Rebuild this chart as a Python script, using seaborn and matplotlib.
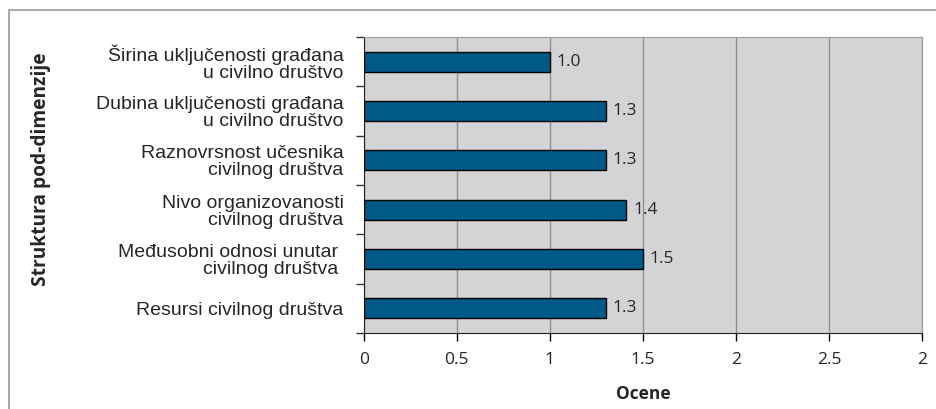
import pandas as pd
import seaborn as sns
import matplotlib.pyplot as plt
from matplotlib.patches import Rectangle

categories = [
    'Širina uključenosti građana\nu civilno društvo',
    'Dubina uključenosti građana\nu civilno društvo',
    'Raznovrsnost učesnika\ncivilnog društva',
    'Nivo organizovanosti\ncivilnog društva',
    'Međusobni odnosi unutar \ncivilnog društva ',
    'Resursi civilnog društva',
]
scores = [1.0, 1.3, 1.3, 1.41, 1.5, 1.3]
x_ticks = [0, 0.5, 1, 1.5, 2, 2.5, 3]
x_tick_labels = ['0', '0.5', '1', '1.5', '2', '2.5', '2']


def plot(output: str):
	sns.set_style('white')
	plt.rcParams['font.family'] = ['Open Sans', 'DejaVu Sans']
	data = pd.DataFrame({'category': categories, 'score': scores})

	fig = plt.figure(figsize=(9.37, 4.09), dpi=100)
	ax = fig.add_axes([363.7 / 937, 1 - 333 / 409, 558.3 / 937, 296 / 409])
	sns.barplot(data=data, y='category', x='score', orient='h', ax=ax,
		color='#005a87', saturation=1, edgecolor='black', linewidth=1, width=0.4, zorder=3)
	ax.set_facecolor('#d4d4d6')
	ax.set_xlim(0, 3)
	ax.set_ylim(5.5, -0.5)
	ax.set_xticks(x_ticks)
	ax.set_xticklabels(x_tick_labels, fontsize=12.5)
	ax.grid(axis='x', color='#8f8f8f', linewidth=1, zorder=0)
	ax.set_axisbelow(True)
	ax.tick_params(axis='x', bottom=True, length=6, width=1, color='black', pad=8)
	ax.tick_params(axis='y', which='major', left=False, labelsize=14, pad=11)
	ax.set_yticks([i + 0.5 for i in range(-1, 6)], minor=True)
	ax.tick_params(axis='y', which='minor', left=True, length=6, width=1, color='#333333')
	for lbl in ax.get_yticklabels():
		lbl.set_family(['Liberation Sans', 'DejaVu Sans'])
		lbl.set_multialignment('right')
		lbl.set_linespacing(1.0)
	for side in ['left', 'bottom']:
		ax.spines[side].set_color('#222222')
	for side in ['top', 'right']:
		ax.spines[side].set_color('#9a9a9a')
	ax.bar_label(ax.containers[0], labels=[f'{v:.1f}' for v in scores], padding=5, fontsize=12.5)
	ax.set_xlabel('Ocene', fontsize=12.5, fontweight='bold', labelpad=12)
	ax.set_ylabel('Struktura pod-dimenzije', fontsize=13.8, fontweight='bold')
	ax.yaxis.set_label_coords(-312.7 / 558.3, 0.555)
	fig.patches.append(Rectangle((9 / 937, -0.05), 1.0, 1 - 10 / 409 + 0.05,
		transform=fig.transFigure, fill=False, edgecolor='#9a9a9a', linewidth=1.2))
	fig.savefig(output, dpi=100)


if __name__ == '__main__':
	plot('out.png')
